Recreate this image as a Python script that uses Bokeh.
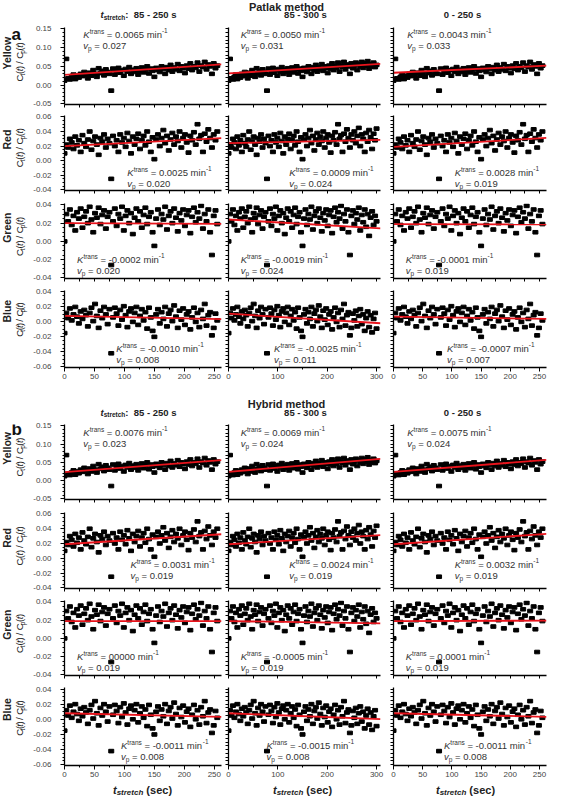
import math
from bokeh.plotting import figure
from bokeh.layouts import column, row
from bokeh.models import Range1d, FixedTicker, NumeralTickFormatter
from bokeh.core.properties import value
from bokeh.embed import file_html
from bokeh.resources import INLINE

FONT = "Liberation Sans"

# ---------------- data ----------------
t_sec = [0, 3, 6, 9, 12, 15, 18, 21, 24, 27, 30, 33, 36, 39, 42, 45, 48, 51, 54, 57,
         60, 63, 66, 69, 72, 75, 78, 81, 84, 87, 90, 93, 96, 99, 102, 105, 108, 111, 114, 117,
         120, 123, 126, 129, 132, 135, 138, 141, 144, 147, 150, 153, 156, 159, 162, 165, 168, 171, 174, 177,
         180, 183, 186, 189, 192, 195, 198, 201, 204, 207, 210, 213, 216, 219, 222, 225, 228, 231, 234, 237,
         240, 243, 246, 249, 252, 255, 258, 261, 264, 267, 270, 273, 276, 279, 282, 285, 288, 291, 294, 297, 300]

yellow = [0.012, 0.070, 0.018, 0.015, 0.022, 0.028, 0.016, 0.025, 0.020, 0.030,
          0.024, 0.035, 0.028, 0.018, 0.033, 0.025, 0.040, 0.030, 0.022, 0.045,
          0.032, 0.038, 0.026, 0.042, 0.035, 0.030, -0.015, 0.044, 0.028, 0.038,
          0.046, 0.033, 0.040, 0.025, 0.043, 0.036, 0.048, 0.030, 0.041, 0.035,
          0.045, 0.028, 0.038, 0.047, 0.034, 0.042, 0.050, 0.031, 0.044, 0.038,
          0.022, 0.046, 0.040, 0.035, 0.050, 0.043, 0.030, 0.048, 0.040, 0.054,
          0.036, 0.047, 0.042, 0.056, 0.038, 0.050, 0.045, 0.032, 0.052, 0.044,
          0.058, 0.040, 0.050, 0.046, 0.060, 0.036, 0.052, 0.048, 0.062, 0.042,
          0.055, 0.050, 0.030, 0.058, 0.045, 0.052, 0.060, 0.040, 0.056, 0.050,
          0.062, 0.046, 0.058, 0.052, 0.064, 0.044, 0.056, 0.050, 0.060, 0.048, 0.054]

red = [0.010, 0.022, 0.018, 0.030, 0.025, 0.016, 0.033, 0.021, 0.028, 0.012,
       0.035, 0.024, 0.019, 0.029, 0.040, 0.015, 0.027, 0.033, 0.022, 0.008,
       0.031, 0.026, 0.036, 0.018, 0.030, 0.024, -0.025, 0.034, 0.020, 0.028,
       0.012, 0.036, 0.025, 0.031, 0.019, 0.038, 0.027, 0.010, 0.033, 0.022,
       0.030, 0.037, 0.016, 0.028, 0.034, 0.021, 0.040, 0.026, 0.012, 0.032,
       0.002, 0.029, 0.036, 0.020, 0.031, 0.042, 0.024, 0.034, 0.014, 0.029,
       0.038, 0.022, 0.033, 0.027, 0.040, 0.018, 0.031, 0.036, 0.025, 0.011,
       0.034, 0.028, 0.039, 0.022, 0.050, 0.030, 0.035, 0.012, 0.037, 0.026,
       0.043, 0.031, 0.018, 0.036, 0.028, 0.040, 0.024, 0.034, 0.045, 0.020,
       0.036, 0.030, 0.012, 0.038, 0.026, 0.042, 0.032, 0.016, 0.037, 0.028, 0.044]

green = [0.000, 0.030, 0.022, 0.035, 0.018, 0.028, 0.012, 0.032, 0.025, 0.036,
         0.015, 0.027, 0.033, 0.020, 0.038, 0.024, 0.010, 0.031, 0.026, 0.037,
         0.019, 0.029, 0.034, 0.014, 0.027, 0.032, -0.026, 0.022, 0.036, 0.017,
         0.030, 0.025, 0.038, 0.012, 0.028, 0.034, 0.020, 0.031, 0.008, 0.026,
         0.036, 0.022, 0.033, 0.015, 0.029, 0.037, 0.019, 0.027, 0.032, 0.010,
         -0.005, 0.025, 0.035, 0.018, 0.030, 0.024, 0.038, 0.013, 0.028, 0.033,
         0.020, 0.036, 0.026, 0.011, 0.031, 0.023, 0.035, 0.017, 0.029, 0.034,
         0.009, 0.027, 0.037, 0.021, 0.032, 0.025, 0.039, 0.014, 0.030, 0.022,
         0.035, 0.010, -0.015, 0.028, 0.034, 0.019, 0.031, 0.024, 0.037, 0.012,
         0.029, 0.021, 0.035, 0.016, 0.030, 0.006, 0.026, 0.033, 0.018, 0.028, 0.022]

blue = [-0.015, 0.012, 0.005, 0.018, 0.002, 0.010, 0.020, 0.007, -0.002, 0.014,
        0.004, 0.016, 0.009, -0.006, 0.012, 0.019, 0.001, 0.024, 0.008, -0.008,
        0.015, 0.005, 0.020, 0.010, -0.003, 0.017, -0.042, 0.006, 0.019, 0.011,
        -0.005, 0.016, 0.003, 0.021, 0.009, -0.007, 0.014, 0.018, 0.000, 0.012,
        0.020, -0.004, 0.008, 0.017, 0.002, 0.013, -0.009, 0.019, 0.006, -0.012,
        -0.020, 0.010, 0.017, -0.002, 0.013, 0.004, 0.020, -0.006, 0.011, 0.016,
        0.001, 0.022, 0.007, -0.008, 0.015, 0.003, 0.018, -0.004, 0.010, 0.014,
        -0.010, 0.006, 0.019, 0.000, 0.012, -0.007, 0.016, 0.004, 0.024, -0.005,
        0.009, 0.013, -0.018, -0.008, 0.011, 0.002, 0.015, -0.006, 0.008, 0.017,
        -0.003, 0.010, -0.012, 0.005, 0.014, -0.007, 0.009, -0.014, 0.004, 0.012, -0.009]

row_names = ["Yellow", "Red", "Green", "Blue"]
series = [yellow, red, green, blue]
windows = ["85 - 250 s", "85 - 300 s", "0 - 250 s"]
methods = ["Patlak method", "Hybrid method"]
panel_letters = ["a", "b"]

# fitted parameters (as printed)
ktrans_a = [["0.0065", "0.0050", "0.0043"],
            ["0.0025", "0.0009", "0.0028"],
            ["-0.0002", "-0.0019", "-0.0001"],
            ["-0.0010", "-0.0025", "-0.0007"]]
vp_a = [["0.027", "0.031", "0.033"],
        ["0.020", "0.024", "0.019"],
        ["0.020", "0.024", "0.019"],
        ["0.008", "0.011", "0.007"]]
ktrans_b = [["0.0076", "0.0069", "0.0075"],
            ["0.0031", "0.0024", "0.0032"],
            ["00000", "-0.0005", "0.0001"],
            ["-0.0011", "-0.0015", "-0.0011"]]
vp_b = [["0.023", "0.024", "0.024"],
        ["0.019", "0.019", "0.019"],
        ["0.019", "0.019", "0.019"],
        ["0.008", "0.008", "0.008"]]
ktrans_all = [ktrans_a, ktrans_b]
vp_all = [vp_a, vp_b]

y_ticks = [[-0.05, 0.0, 0.05, 0.10, 0.15],
           [-0.04, -0.02, 0.0, 0.02, 0.04, 0.06],
           [-0.04, -0.02, 0.0, 0.02, 0.04],
           [-0.06, -0.04, -0.02, 0.0, 0.02, 0.04]]
y_minor_step = [0.01, 0.005, 0.005, 0.005]
x_ticks = [[0, 50, 100, 150, 200, 250], [0, 100, 200, 300], [0, 50, 100, 150, 200, 250]]
x_minor_step = [25, 50, 25]
col_t_max = [255, 300, 255]
col_x_end = [262, 308, 262]

# ---------------- layout (pixels) ----------------
LAB_W = 30
COL_W = [195, 159, 164]
COL_BL = [33, 3, 9]
COL_BR = [4, 4, 2]
TOTAL_W = LAB_W + sum(COL_W)

HEADER_H = [20, 31]
ROWS_GEOM = [[(90, 7, 6), (87, 5, 7), (87, 6, 6), (103, 6, 20)],
             [(88, 6, 7), (88, 6, 6), (87, 6, 6), (101, 6, 17)]]
FOOTER_H = 14

# annotation anchor positions, fraction of frame: (fx, fy_K, fy_vp)
ann_pos = [
    [[(0.12, 0.91, 0.76), (0.08, 0.91, 0.76), (0.09, 0.91, 0.76)],
     [(0.40, 0.24, 0.10), (0.40, 0.24, 0.10), (0.40, 0.24, 0.10)],
     [(0.08, 0.26, 0.11), (0.08, 0.26, 0.11), (0.08, 0.26, 0.11)],
     [(0.33, 0.25, 0.11), (0.30, 0.25, 0.11), (0.35, 0.25, 0.11)]],
    [[(0.12, 0.90, 0.75), (0.08, 0.90, 0.75), (0.09, 0.90, 0.75)],
     [(0.42, 0.31, 0.17), (0.40, 0.31, 0.17), (0.40, 0.31, 0.17)],
     [(0.08, 0.26, 0.11), (0.08, 0.26, 0.11), (0.08, 0.26, 0.11)],
     [(0.36, 0.26, 0.12), (0.25, 0.26, 0.12), (0.33, 0.26, 0.12)]],
]

TXT = "#333333"
RED = "#e8141c"

W_REG = {' ': 278, '(': 333, ')': 333, '-': 333, '.': 278, '/': 278, ':': 278, '=': 584,
         'B': 667, 'C': 722, 'G': 778, 'H': 722, 'K': 667, 'P': 667, 'R': 722, 'Y': 667,
         'a': 556, 'b': 556, 'c': 500, 'd': 556, 'e': 556, 'h': 556, 'i': 222, 'k': 500,
         'l': 222, 'm': 833, 'n': 556, 'o': 556, 'p': 556, 'r': 333, 's': 500, 't': 278,
         'u': 556, 'v': 500, 'w': 722, 'y': 500}
W_BOLD = {' ': 278, '(': 333, ')': 333, '-': 333, '.': 278, '/': 278, ':': 333,
          'B': 722, 'G': 778, 'H': 722, 'P': 667, 'R': 722, 'Y': 667,
          'a': 556, 'b': 611, 'c': 556, 'd': 611, 'e': 556, 'h': 611, 'i': 278, 'k': 556,
          'l': 278, 'm': 889, 'n': 611, 'o': 611, 'r': 389, 's': 556, 't': 333, 'u': 611,
          'w': 778, 'y': 556}


def tw(s, size, style):
    tab = W_BOLD if "bold" in style else W_REG
    return sum(tab.get(ch, 556) for ch in s) * size / 1000.0


def rich(p, x, y, segs, align="left", color=TXT):
    total = sum(tw(t, s, st) for t, s, st, _ in segs)
    off = -total / 2.0 if align == "center" else 0.0
    for t, s, st, dy in segs:
        # SVG drops leading blanks: advance over them explicitly
        body = t.lstrip(" ")
        off += tw(t[:len(t) - len(body)], s, st)
        p.text(x=[x], y=[y], text=[body], x_offset=off, y_offset=dy,
               text_font=value(FONT), text_font_size=f"{s}px", text_font_style=st,
               text_align="left", text_baseline="middle", text_color=color)
        off += tw(body, s, st)


def rich_rot(p, xc, yc, segs, color=TXT):
    total = sum(tw(t, s, st) for t, s, st, _ in segs)
    ypos = yc - total / 2.0
    for t, s, st, dx in segs:
        body = t.lstrip(" ")
        ypos += tw(t[:len(t) - len(body)], s, st)
        p.text(x=[xc + dx], y=[ypos], text=[body], angle=math.pi / 2,
               text_font=value(FONT), text_font_size=f"{s}px", text_font_style=st,
               text_align="left", text_baseline="middle", text_color=color)
        ypos += tw(body, s, st)


def blank(w, h):
    p = figure(width=w, height=h, x_range=Range1d(0, w), y_range=Range1d(0, h),
               output_backend="svg", toolbar_location=None, title=None,
               x_axis_location=None, y_axis_location=None,
               min_border=0, min_border_left=0, min_border_right=0,
               min_border_top=0, min_border_bottom=0)
    p.outline_line_color = None
    p.grid.visible = False
    return p


def make_header(pi):
    h = HEADER_H[pi]
    p = blank(TOTAL_W, h)
    ty = 6 if pi == 0 else 16
    rich(p, 286, h - ty, [(methods[pi], 11, "bold", 0)], align="center", color="#222222")
    hy = 14 if pi == 0 else 24.5
    centers = [138, 305, 462]
    for ci in range(3):
        if ci == 0:
            segs = [("t", 9.5, "bold italic", 0), ("stretch", 6.5, "bold", 2.5),
                    (":", 9.5, "bold", 0), ("  " + windows[ci], 9.5, "bold", 0)]
        else:
            segs = [(windows[ci], 9.5, "bold", 0)]
        rich(p, centers[ci], h - hy, segs, align="center", color="#222222")
    return p


def make_label(pi, ri):
    h, bt, bb = ROWS_GEOM[pi][ri]
    p = blank(LAB_W, h)
    fc = h - (bt + (h - bt - bb) / 2.0)
    rich_rot(p, 6, fc + 13, [(row_names[ri], 10.5, "bold", 0)], color="#222222")
    segs = [("C", 9.5, "normal", 0), ("t", 6.5, "normal", 2.5), ("(", 9.5, "normal", 0),
            ("t", 9.5, "italic", 0), (")", 9.5, "normal", 0), (" / C", 9.5, "normal", 0),
            ("p", 6.5, "normal", 2.5),
            ("(", 9.5, "normal", 0), ("t", 9.5, "italic", 0), (")", 9.5, "normal", 0)]
    rich_rot(p, 19, fc + 5, segs, color="#222222")
    if ri == 0:
        top = 8 if pi == 0 else 6
        rich(p, 11, h - top, [(panel_letters[pi], 17, "bold", 0)], color="#111111")
    return p


def style_axis(ax):
    ax.axis_line_color = "black"
    ax.axis_line_width = 1.3
    ax.major_tick_line_color = "black"
    ax.minor_tick_line_color = "black"
    ax.major_tick_out = 4
    ax.major_tick_in = 0
    ax.minor_tick_out = 2
    ax.minor_tick_in = 0
    ax.major_label_text_font = FONT
    ax.major_label_text_font_size = "8px"
    ax.major_label_text_color = "#444444"


def make_plot(pi, ri, ci):
    h, bt, bb = ROWS_GEOM[pi][ri]
    ticks = y_ticks[ri]
    span = ticks[-1] - ticks[0]
    ylo, yhi = ticks[0] - 0.01 * span, ticks[-1] + 0.02 * span
    xend = col_x_end[ci]
    p = figure(width=COL_W[ci], height=h, x_range=Range1d(0, xend), y_range=Range1d(ylo, yhi),
               output_backend="svg", toolbar_location=None, title=None,
               min_border_left=COL_BL[ci], min_border_right=COL_BR[ci],
               min_border_top=bt, min_border_bottom=bb)
    p.outline_line_color = None
    p.grid.visible = False

    ystep = y_minor_step[ri]
    nmin = int(round(span / ystep))
    yminor = [round(ticks[0] + k * ystep, 4) for k in range(nmin + 1)]
    xs = x_minor_step[ci]
    xminor = [k * xs for k in range(int(xend // xs) + 1)]

    y_lab = (ci == 0)
    x_lab = (ri == 3)
    p.yaxis.ticker = FixedTicker(ticks=ticks if y_lab else [], minor_ticks=yminor)
    p.xaxis.ticker = FixedTicker(ticks=x_ticks[ci] if x_lab else [], minor_ticks=xminor)

    style_axis(p.xaxis[0])
    style_axis(p.yaxis[0])
    if not y_lab:
        p.yaxis.minor_tick_out = 3
    if not x_lab:
        p.xaxis.minor_tick_out = 3
    p.yaxis.formatter = NumeralTickFormatter(format="0.00")
    p.yaxis.major_label_standoff = 9
    p.xaxis.major_label_standoff = 2

    tmax = col_t_max[ci]
    xs_pts = [t for t in t_sec if t <= tmax]
    ys_pts = [v for t, v in zip(t_sec, series[ri]) if t <= tmax]
    p.rect(x=xs_pts, y=ys_pts, width=5, height=3.6, width_units="screen",
           height_units="screen", color="black")

    k_txt = ktrans_all[pi][ri][ci]
    vp_txt = vp_all[pi][ri][ci]
    k = float(k_txt)
    vp = float(vp_txt)
    p.line(x=[0, xend], y=[vp, vp + k * xend / 60.0], line_color=RED, line_width=1.8)

    fx, fyk, fyv = ann_pos[pi][ri][ci]
    ax_ = fx * xend
    yk = ylo + fyk * (yhi - ylo)
    yv = ylo + fyv * (yhi - ylo)
    rich(p, ax_, yk, [("K", 9.5, "italic", 0), ("trans", 6.5, "normal", -3),
                      (" = " + k_txt + " min", 9.5, "normal", 0), ("-1", 6.5, "normal", -4)])
    rich(p, ax_, yv, [("v", 9.5, "italic", 0), ("p", 6.5, "normal", 3),
                      (" = " + vp_txt, 9.5, "normal", 0)])
    return p


def make_footer():
    p = blank(TOTAL_W, FOOTER_H)
    centers = [142, 302, 465]
    for ci in range(3):
        segs = [("t", 11, "bold italic", 0), ("stretch", 8, "bold italic", 3),
                (" (sec)", 11, "bold", 0)]
        rich(p, centers[ci], FOOTER_H - 7, segs, align="center", color="#222222")
    return p


children = []
for pi in range(2):
    children.append(make_header(pi))
    for ri in range(4):
        children.append(row(make_label(pi, ri), make_plot(pi, ri, 0),
                            make_plot(pi, ri, 1), make_plot(pi, ri, 2), spacing=0))
children.append(make_footer())
layout = column(*children, spacing=0)

open("out.html", "w").write(file_html(layout, INLINE, title="Patlak and Hybrid fits"))
